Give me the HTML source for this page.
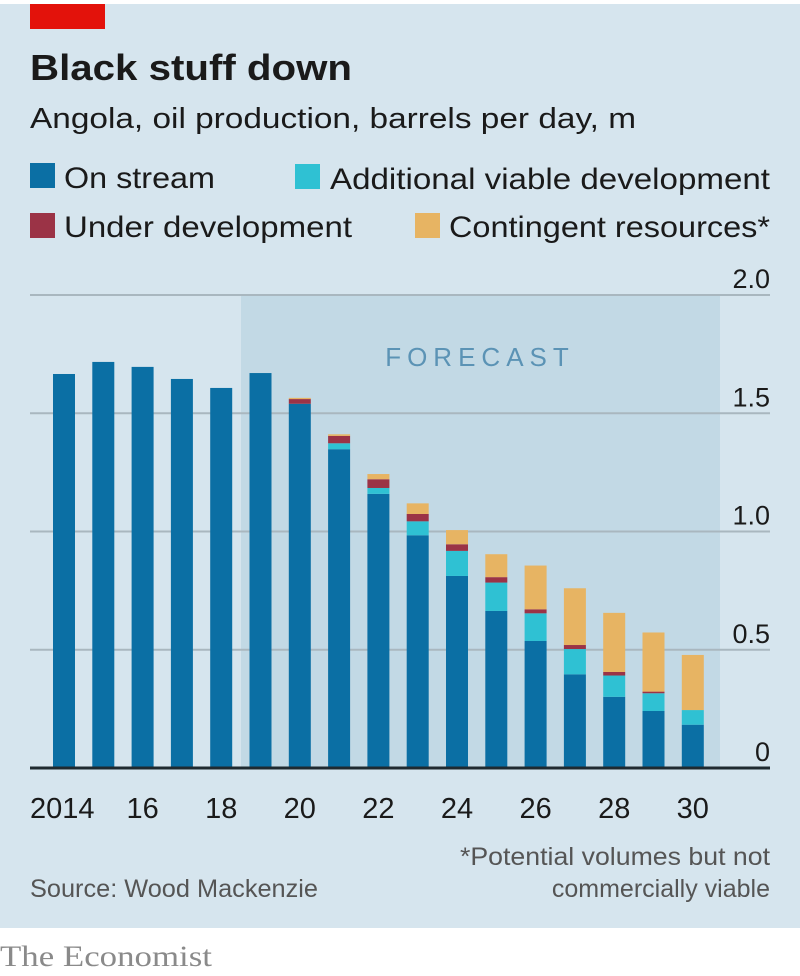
<!DOCTYPE html>
<html><head><meta charset="utf-8"><style>
html,body{margin:0;padding:0;background:#fff;}
svg{display:block;font-family:"Liberation Sans",sans-serif;}
</style></head><body>
<svg width="800" height="976" viewBox="0 0 800 976">
<rect x="0" y="4" width="800" height="924" fill="#d6e5ee"/>
<rect x="30" y="4" width="75" height="25" fill="#e3120b"/>
<text x="30" y="80" font-size="36" font-weight="bold" fill="#1a1a1a" textLength="322" lengthAdjust="spacingAndGlyphs">Black stuff down</text>
<text x="30" y="128" font-size="29" fill="#1a1a1a" textLength="606" lengthAdjust="spacingAndGlyphs">Angola, oil production, barrels per day, m</text>
<g>
<rect x="30" y="163" width="25" height="25" fill="#0b6fa4"/>
<text x="64" y="188" font-size="30" fill="#1a1a1a" textLength="151" lengthAdjust="spacingAndGlyphs">On stream</text>
<rect x="295" y="164" width="25" height="25" fill="#2fc1d3"/>
<text x="330" y="189" font-size="30" fill="#1a1a1a" textLength="440" lengthAdjust="spacingAndGlyphs">Additional viable development</text>
<rect x="30" y="213" width="25" height="25" fill="#9b3346"/>
<text x="64" y="237" font-size="30" fill="#1a1a1a" textLength="288" lengthAdjust="spacingAndGlyphs">Under development</text>
<rect x="415" y="213" width="25" height="25" fill="#e7b463"/>
<text x="449" y="237" font-size="30" fill="#1a1a1a" textLength="321" lengthAdjust="spacingAndGlyphs">Contingent resources*</text>
</g>
<rect x="241" y="295" width="479" height="473" fill="#c2d9e5"/>
<text x="480" y="366" font-size="26" fill="#5b93b5" text-anchor="middle" letter-spacing="6">FORECAST</text>
<g id="grid"></g>
<g id="bars"></g>
<line x1="30" y1="768" x2="770" y2="768" stroke="#1f2a30" stroke-width="3"/>
<g id="xlabels"></g>
<text x="460" y="865" font-size="25" fill="#555" textLength="310" lengthAdjust="spacingAndGlyphs">*Potential volumes but not</text>
<text x="770" y="897" font-size="25" fill="#555" text-anchor="end">commercially viable</text>
<text x="30" y="897" font-size="25" fill="#555" textLength="288" lengthAdjust="spacingAndGlyphs">Source: Wood Mackenzie</text>
<text x="0" y="966" font-size="30" fill="#8a8a8a" font-family="Liberation Serif, serif" textLength="212" lengthAdjust="spacingAndGlyphs">The Economist</text>
</svg>
<script>
const years = [2014,2015,2016,2017,2018,2019,2020,2021,2022,2023,2024,2025,2026,2027,2028,2029,2030];
const onStream = [1.666,1.717,1.696,1.645,1.607,1.670,1.54,1.348,1.159,0.984,0.812,0.664,0.537,0.396,0.301,0.241,0.183];
const additional = [0,0,0,0,0,0,0,0.025,0.025,0.059,0.106,0.12,0.117,0.107,0.09,0.075,0.062];
const underDev = [0,0,0,0,0,0,0.02,0.031,0.037,0.031,0.028,0.023,0.017,0.017,0.015,0.007,0];
const contingent = [0,0,0,0,0,0,0.005,0.007,0.022,0.045,0.06,0.097,0.185,0.24,0.25,0.25,0.233];
const yTicks = [0,0.5,1.0,1.5,2.0];
const yTickLabels = ["0","0.5","1.0","1.5","2.0"];
const xLabelYears = [2014,2016,2018,2020,2022,2024,2026,2028,2030];
const xLabelText = ["2014","16","18","20","22","24","26","28","30"];

const NS="http://www.w3.org/2000/svg";
const y = v => 768 - v*236.5;
const x = yr => 64 + (yr-2014)*39.3;
const BW = 22;
const grid=document.getElementById('grid');
yTicks.forEach((t,i)=>{
  if(t>0){
    const l=document.createElementNS(NS,'line');
    l.setAttribute('x1',30);l.setAttribute('x2',770);
    l.setAttribute('y1',y(t));l.setAttribute('y2',y(t));
    l.setAttribute('stroke','#a9b7bf');l.setAttribute('stroke-width','2');
    
    
    grid.appendChild(l);
  }
  const tx=document.createElementNS(NS,'text');
  tx.setAttribute('x',770);tx.setAttribute('y',y(t)-7);
  tx.setAttribute('text-anchor','end');tx.setAttribute('font-size','27');tx.setAttribute('fill','#1a1a1a');
  tx.textContent=yTickLabels[i];
  
  
  grid.appendChild(tx);
});
const bars=document.getElementById('bars');
const series=[[onStream,'#0b6fa4','on-stream'],[additional,'#2fc1d3','additional'],[underDev,'#9b3346','under-development'],[contingent,'#e7b463','contingent']];
years.forEach((yr,i)=>{
  let base=0;
  series.forEach(([arr,col,nm])=>{
    const v=arr[i];
    if(v>0){
      const r=document.createElementNS(NS,'rect');
      r.setAttribute('x',x(yr)-BW/2);r.setAttribute('width',BW);
      r.setAttribute('y',y(base+v));r.setAttribute('height',y(base)-y(base+v));
      r.setAttribute('fill',col);
      
      
      bars.appendChild(r);
    }
    base+=v;
  });
});
const xl=document.getElementById('xlabels');
xLabelYears.forEach((yr,i)=>{
  const tx=document.createElementNS(NS,'text');
  const anchorStart = i===0;
  tx.setAttribute('x',anchorStart?30:x(yr));tx.setAttribute('y',818);
  tx.setAttribute('text-anchor',anchorStart?'start':'middle');
  tx.setAttribute('font-size','29');tx.setAttribute('fill','#1a1a1a');
  tx.textContent=xLabelText[i];
  
  
  xl.appendChild(tx);
});
</script>
</body></html>
